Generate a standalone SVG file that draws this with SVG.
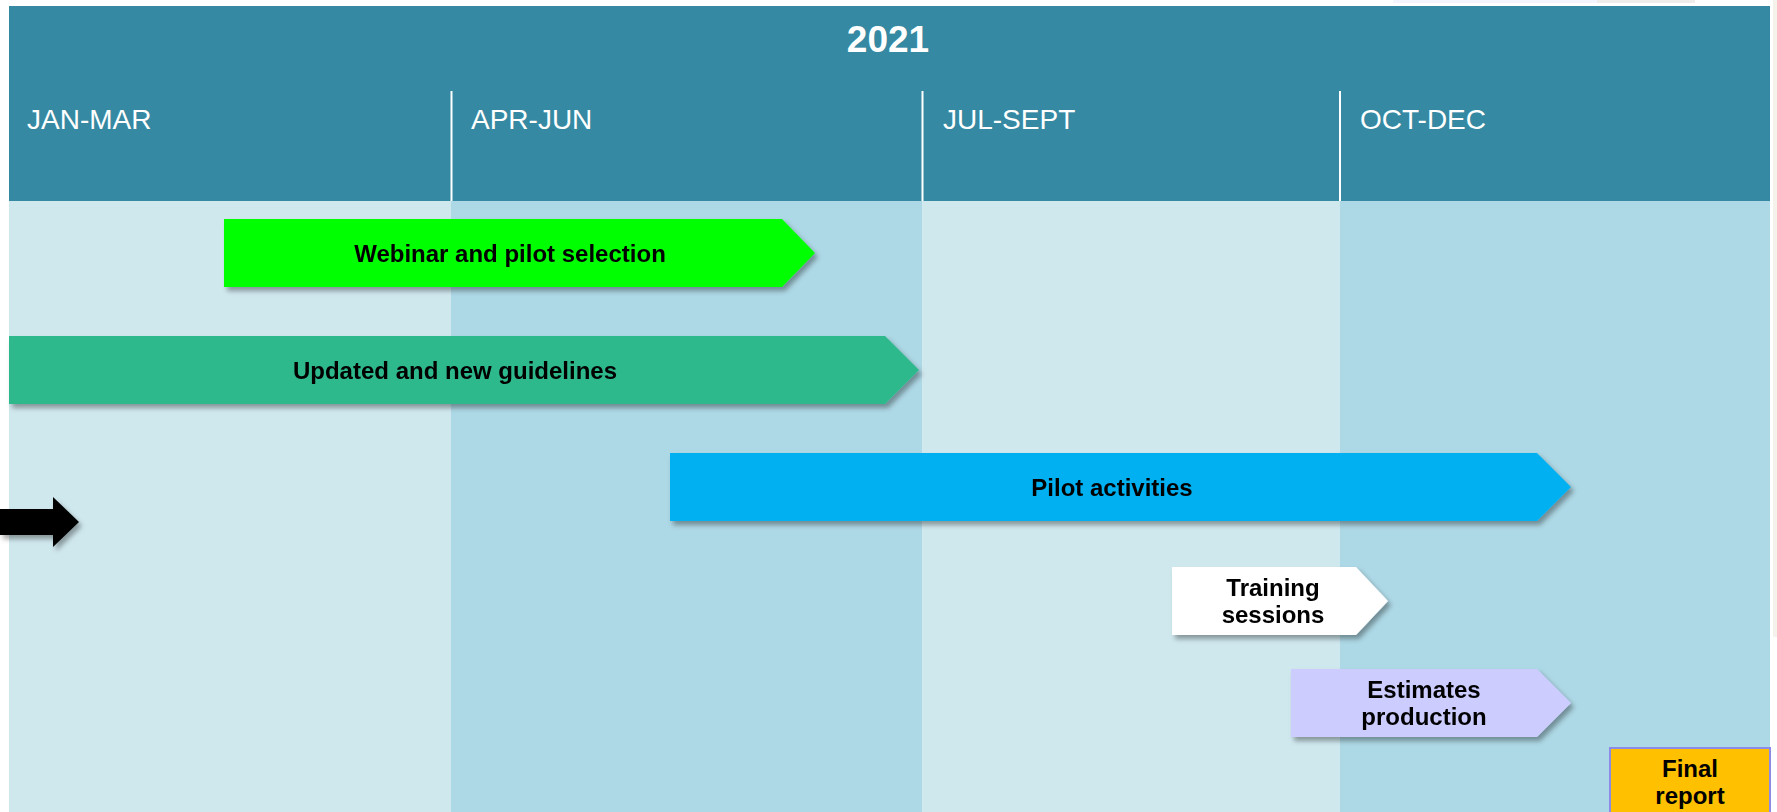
<svg xmlns="http://www.w3.org/2000/svg" width="1777" height="812" viewBox="0 0 1777 812">
<defs>
<filter id="sh" x="-5%" y="-20%" width="115%" height="160%">
<feDropShadow dx="3" dy="4" stdDeviation="2.5" flood-color="#000" flood-opacity="0.35"/>
</filter>
<style>
.hdr{font-family:"Liberation Sans",Arial,sans-serif;fill:#fff;font-size:28px}
.yr{font-family:"Liberation Sans",Arial,sans-serif;fill:#fff;font-size:37px;font-weight:bold}
.lbl{font-family:"Liberation Sans",Arial,sans-serif;fill:#000;font-size:24px;font-weight:bold;text-anchor:middle}
.colL{fill:#CFE8EE}
.colD{fill:#ADD8E5}
.div{stroke:#fff;stroke-width:2}
</style>
</defs>
<rect width="1777" height="812" fill="#fff"/>
<rect x="1393" y="0" width="204" height="3" fill="#F4F4FF"/>
<rect x="1597" y="0" width="98" height="3" fill="#EEEDEB"/>
<rect x="1773" y="0" width="4" height="637" fill="#F5F2EC"/>
<g id="background">
<rect x="9" y="6" width="1761" height="195" fill="#3589A2"/>
<rect class="colL" x="9" y="201" width="442" height="611"/>
<rect class="colD" x="451" y="201" width="471.5" height="611"/>
<rect class="colL" x="922.5" y="201" width="417.5" height="611"/>
<rect class="colD" x="1340" y="201" width="430" height="611"/>
<line class="div" x1="451.5" y1="91" x2="451.5" y2="201"/>
<line class="div" x1="922.5" y1="91" x2="922.5" y2="201"/>
<line class="div" x1="1340" y1="91" x2="1340" y2="201"/>
<text class="yr" x="888" y="52" text-anchor="middle">2021</text>
<text class="hdr" x="27" y="129">JAN-MAR</text>
<text class="hdr" x="471" y="129">APR-JUN</text>
<text class="hdr" x="943" y="129">JUL-SEPT</text>
<text class="hdr" x="1360" y="129">OCT-DEC</text>
</g>
<g id="webinar" filter="url(#sh)">
<polygon points="224,219 782,219 815,253 782,287 224,287" fill="#00FF00"/>
<text class="lbl" x="510" y="262">Webinar and pilot selection</text>
</g>
<g id="guidelines" filter="url(#sh)">
<polygon points="9,336 885,336 919,370 885,404 9,404" fill="#2DB98C"/>
<text class="lbl" x="455" y="379">Updated and new guidelines</text>
</g>
<g id="pilot" filter="url(#sh)">
<polygon points="670,453 1537,453 1571,487 1537,521 670,521" fill="#00B0F0"/>
<text class="lbl" x="1112" y="496">Pilot activities</text>
</g>
<g id="training" filter="url(#sh)">
<polygon points="1172,567 1356,567 1388,601 1356,635 1172,635" fill="#FFFFFF"/>
<text class="lbl" x="1273" y="596">Training</text>
<text class="lbl" x="1273" y="623">sessions</text>
</g>
<g id="estimates" filter="url(#sh)">
<polygon points="1291,669 1537,669 1571,703 1537,737 1291,737" fill="#CCCCFF"/>
<text class="lbl" x="1424" y="698">Estimates</text>
<text class="lbl" x="1424" y="725">production</text>
</g>
<g id="final-report">
<rect x="1610" y="748" width="160" height="70" fill="#FFC000" stroke="#8C8CE8" stroke-width="2"/>
<text class="lbl" x="1690" y="777">Final</text>
<text class="lbl" x="1690" y="804">report</text>
</g>
<g id="connectors" filter="url(#sh)">
<polygon points="0,509 53,509 53,497 79,522 53,547 53,535 0,535" fill="#000"/>
</g>
</svg>
